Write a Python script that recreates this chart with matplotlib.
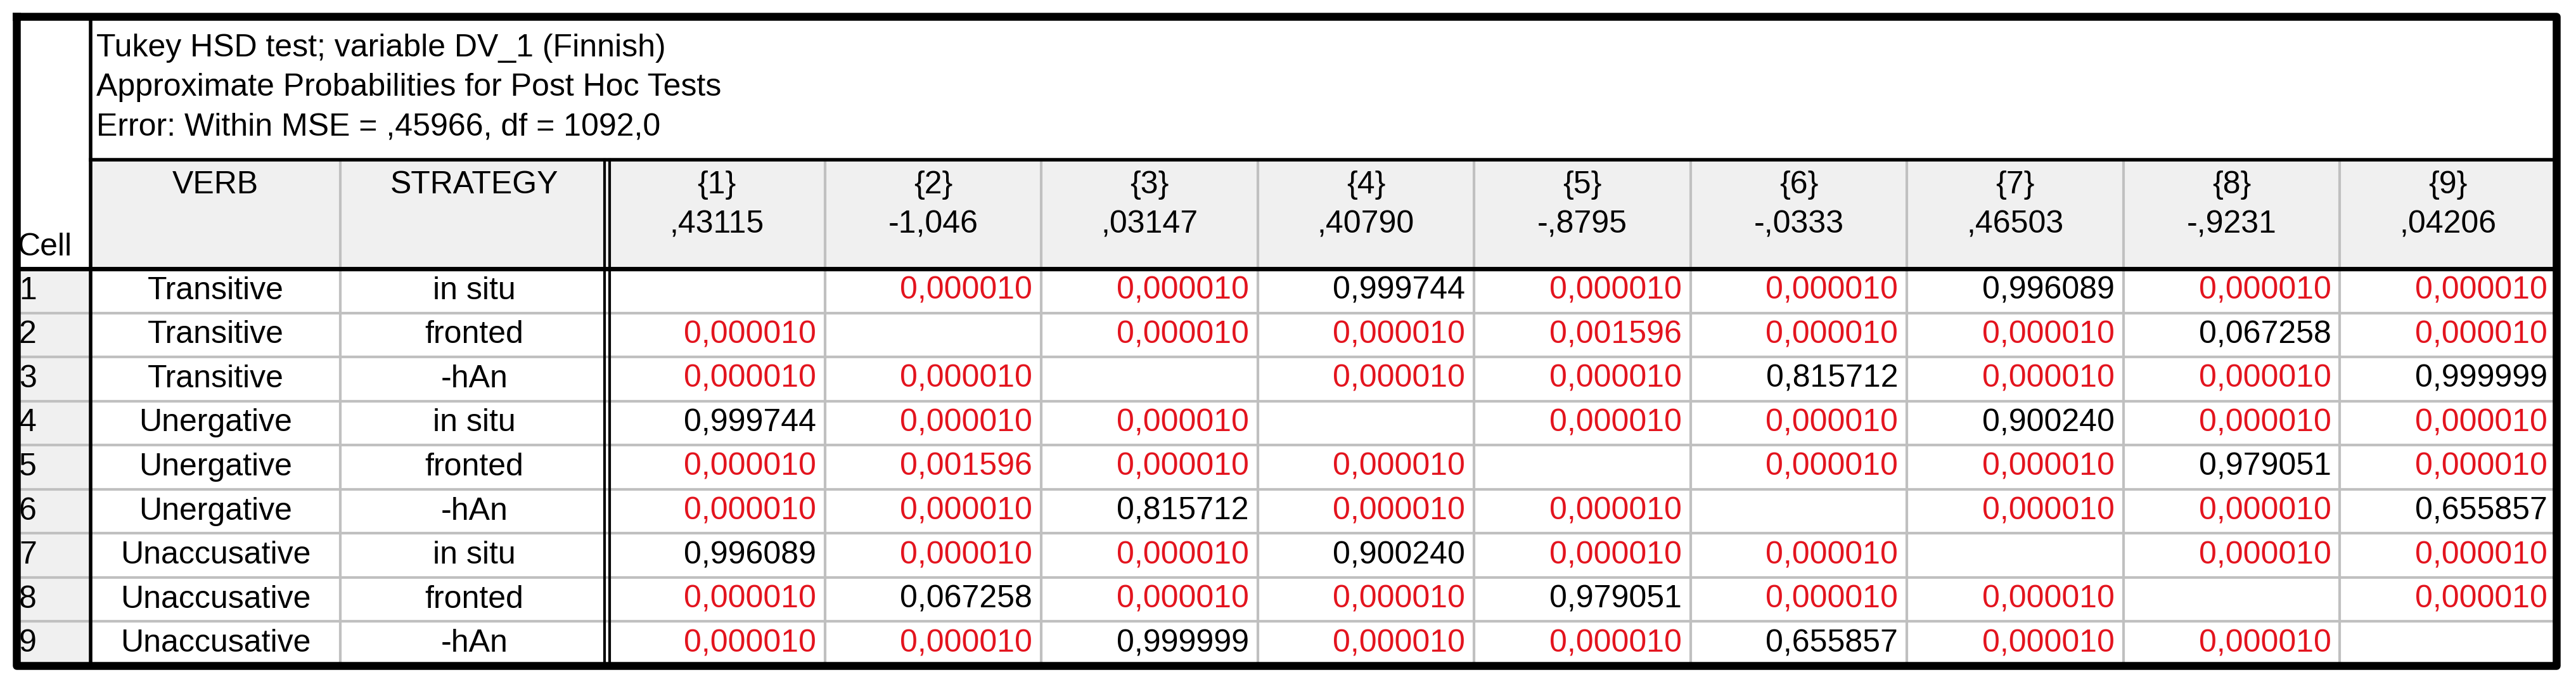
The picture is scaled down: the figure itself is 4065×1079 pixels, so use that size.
import matplotlib
matplotlib.use("Agg")
import matplotlib.pyplot as plt

title_lines = ["Tukey HSD test; variable DV_1 (Finnish)",
               "Approximate Probabilities for Post Hoc Tests",
               "Error: Within MSE = ,45966, df = 1092,0"]
verbs = ["Transitive"]*3 + ["Unergative"]*3 + ["Unaccusative"]*3
strategies = ["in situ", "fronted", "-hAn"]*3
col_ids = ["{1}", "{2}", "{3}", "{4}", "{5}", "{6}", "{7}", "{8}", "{9}"]
col_means = [",43115", "-1,046", ",03147", ",40790", "-,8795", "-,0333", ",46503", "-,9231", ",04206"]
E = None
probs = [
 [E, 0.000010, 0.000010, 0.999744, 0.000010, 0.000010, 0.996089, 0.000010, 0.000010],
 [0.000010, E, 0.000010, 0.000010, 0.001596, 0.000010, 0.000010, 0.067258, 0.000010],
 [0.000010, 0.000010, E, 0.000010, 0.000010, 0.815712, 0.000010, 0.000010, 0.999999],
 [0.999744, 0.000010, 0.000010, E, 0.000010, 0.000010, 0.900240, 0.000010, 0.000010],
 [0.000010, 0.001596, 0.000010, 0.000010, E, 0.000010, 0.000010, 0.979051, 0.000010],
 [0.000010, 0.000010, 0.815712, 0.000010, 0.000010, E, 0.000010, 0.000010, 0.655857],
 [0.996089, 0.000010, 0.000010, 0.900240, 0.000010, 0.000010, E, 0.000010, 0.000010],
 [0.000010, 0.067258, 0.000010, 0.000010, 0.979051, 0.000010, 0.000010, E, 0.000010],
 [0.000010, 0.000010, 0.999999, 0.000010, 0.000010, 0.655857, 0.000010, 0.000010, E],
]

W, H = 4066, 1079
fig = plt.figure(figsize=(W/100, H/100), dpi=100)
ax = fig.add_axes([0, 0, 1, 1])
ax.set_xlim(0, W); ax.set_ylim(H, 0); ax.axis("off")
FONT = "Liberation Sans"
FS = 36
RED = "#e3141e"

L, R, T, B = 26, 4034, 26, 1050
xc = 143
xv = 537
xs = 960
ncol = 9
xcols = [xs + i*(R-xs)/ncol for i in range(ncol+1)]
yh = 252
yd = 424
rh = (B-yd)/9

ax.fill_between([xc, R], yh, yd, color="#f0f0f0", lw=0)
ax.fill_between([L, xc], yd, B, color="#f0f0f0", lw=0)
for i in range(1, 9):
    y = yd + i*rh
    ax.plot([L, R], [y, y], color="#c0c0c0", lw=3)
for x in [xv] + xcols[1:-1]:
    ax.plot([x, x], [yh, B], color="#c0c0c0", lw=3)
ax.plot([xs-6, xs-6], [yh, B], color="black", lw=3)
ax.plot([xs+2, xs+2], [yh, B], color="black", lw=3)
ax.plot([xc, R], [yh, yh], color="black", lw=4)
ax.plot([L, R], [yd, yd], color="black", lw=5)
ax.plot([xc, xc], [T, B], color="black", lw=4)
ax.plot([L, R, R, L, L], [T, T, B, B, T], color="black", lw=9)

for i, t in enumerate(title_lines):
    ax.text(152, 76 + i*62, t, fontsize=FS, family=FONT, va="center", ha="left")
ax.text(28, yd-34, "Cell", fontsize=FS, family=FONT, va="center", ha="left")
ax.text((xc+xv)/2, yh+40, "VERB", fontsize=FS, family=FONT, va="center", ha="center")
ax.text((xv+xs)/2, yh+40, "STRATEGY", fontsize=FS, family=FONT, va="center", ha="center")
for j in range(ncol):
    cx = (xcols[j]+xcols[j+1])/2
    ax.text(cx, yh+40, col_ids[j], fontsize=FS, family=FONT, va="center", ha="center")
    ax.text(cx, yh+102, col_means[j], fontsize=FS, family=FONT, va="center", ha="center")

for i in range(9):
    cy = yd + (i+0.5)*rh
    ax.text(30, cy, str(i+1), fontsize=FS, family=FONT, va="center", ha="left")
    ax.text((xc+xv)/2, cy, verbs[i], fontsize=FS, family=FONT, va="center", ha="center")
    ax.text((xv+xs)/2, cy, strategies[i], fontsize=FS, family=FONT, va="center", ha="center")
    for j in range(ncol):
        v = probs[i][j]
        if v is None:
            continue
        s = f"{v:.6f}".replace(".", ",")
        ax.text(xcols[j+1]-14, cy, s, fontsize=FS, family=FONT, va="center", ha="right",
                color=RED if v < 0.05 else "black")

fig.savefig("out.png", dpi=100, facecolor="white")
